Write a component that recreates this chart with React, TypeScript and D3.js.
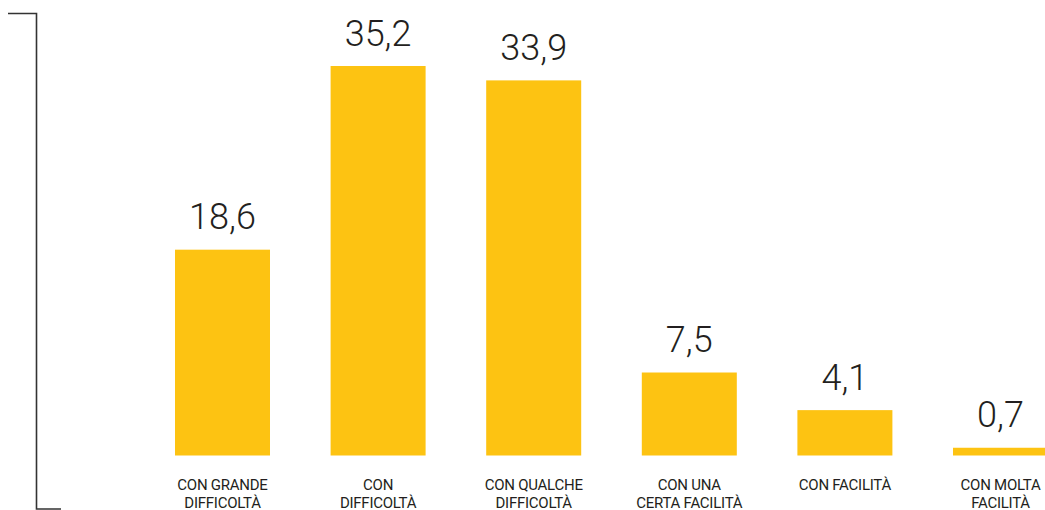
import React from "react";
import * as d3 from "d3";

const categories = [
  "CON GRANDE\nDIFFICOLTÀ",
  "CON\nDIFFICOLTÀ",
  "CON QUALCHE\nDIFFICOLTÀ",
  "CON UNA\nCERTA FACILITÀ",
  "CON FACILITÀ",
  "CON MOLTA\nFACILITÀ",
];
const values = [18.6, 35.2, 33.9, 7.5, 4.1, 0.7];
const valueLabels = ["18,6", "35,2", "33,9", "7,5", "4,1", "0,7"];

const W = 1045;
const H = 510;
const BAR_COLOR = "#FDC312";
const TEXT_COLOR = "#231F20";

export default function App() {
  const step = 155.6;
  const bw = 95;
  const x0 = 175;
  const x = d3
    .scaleBand<string>()
    .domain(categories)
    .range([x0, x0 + categories.length * step - (step - bw)])
    .paddingInner(1 - bw / step)
    .paddingOuter(0);
  const y = d3.scaleLinear().domain([0, 35.2]).range([455.5, 66]);

  return (
    <svg
      width={W}
      height={H}
      style={{ position: "absolute", left: 0, top: 0, background: "#fff" }}
    >
      {/* bracket */}
      <path
        d="M8,13.5 H36.5 V509 H61"
        fill="none"
        stroke="#333"
        strokeWidth={1.6}
      />
      {categories.map((c, i) => {
        const bx = x(c)!;
        const cx = bx + x.bandwidth() / 2;
        const top = y(values[i]);
        const lines = c.split("\n");
        return (
          <g key={c}>
            <rect
              x={bx}
              y={top}
              width={x.bandwidth()}
              height={y(0) - top}
              fill={BAR_COLOR}
            />
            <text
              x={cx}
              y={top - 20.5}
              textAnchor="middle"
              fontFamily="Roboto"
              fontWeight={300}
              fontSize={36}
              fill={TEXT_COLOR}
            >
              {valueLabels[i]}
            </text>
            {lines.map((l, j) => (
              <text
                key={j}
                x={cx}
                y={489.5 + j * 18}
                textAnchor="middle"
                fontFamily="Roboto"
                fontSize={15}
                letterSpacing={-0.25}
                fill={TEXT_COLOR}
              >
                {l}
              </text>
            ))}
          </g>
        );
      })}
    </svg>
  );
}
